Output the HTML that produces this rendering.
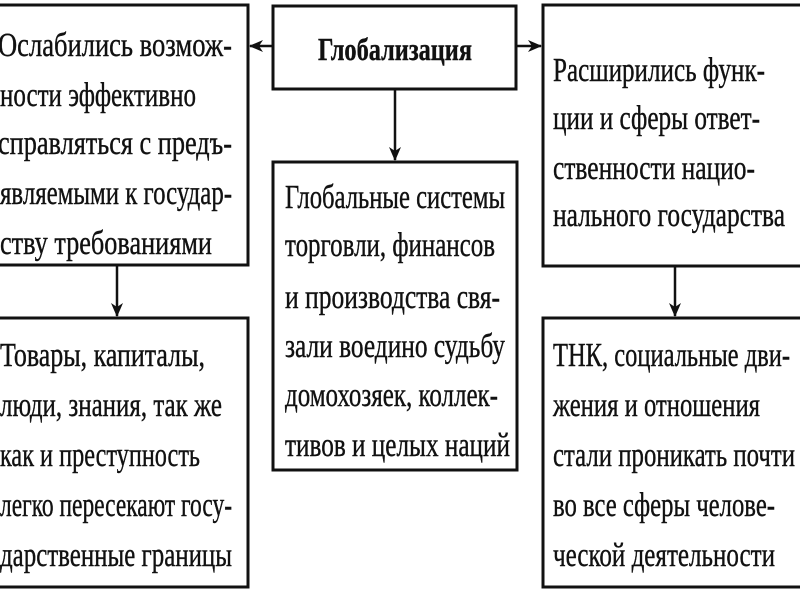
<!DOCTYPE html>
<html><head><meta charset="utf-8"><style>
html,body{margin:0;padding:0;background:#fff;width:800px;height:600px;overflow:hidden}
svg text{font-family:"Liberation Serif","DejaVu Serif",serif;font-size:34px;fill:#111;stroke:#111;stroke-width:0.4}
</style></head><body>
<svg width="800" height="600" viewBox="0 0 800 600" xmlns="http://www.w3.org/2000/svg">
<defs><marker id="a" markerWidth="14" markerHeight="12" refX="13" refY="6" orient="auto" markerUnits="userSpaceOnUse"><path d="M0,0 L14,6 L0,12 L4,6 Z" fill="#111"/></marker></defs>
<g fill="none" stroke="#111" stroke-width="3">
<rect x="-5" y="5" width="253" height="260"/>
<rect x="273" y="6" width="243" height="83"/>
<rect x="543" y="5" width="262" height="261"/>
<rect x="273" y="162" width="244" height="308"/>
<rect x="-5" y="318" width="253" height="269"/>
<rect x="543" y="318" width="262" height="269"/>
</g>
<g stroke="#111" stroke-width="2.5" marker-end="url(#a)">
<line x1="273" y1="46" x2="250" y2="46"/>
<line x1="516" y1="46" x2="541" y2="46"/>
<line x1="395" y1="89" x2="395" y2="160"/>
<line x1="117" y1="265" x2="117" y2="316"/>
<line x1="675" y1="266" x2="675" y2="316"/>
</g>
<text x="318" y="60" textLength="154" lengthAdjust="spacingAndGlyphs" font-weight="bold" style="font-size:32px">Глобализация</text>
<text x="-2" y="56" textLength="234" lengthAdjust="spacingAndGlyphs">Ослабились возмож-</text>
<text x="0" y="106" textLength="196" lengthAdjust="spacingAndGlyphs">ности эффективно</text>
<text x="-2" y="154" textLength="234" lengthAdjust="spacingAndGlyphs">справляться с предъ-</text>
<text x="0" y="204" textLength="232" lengthAdjust="spacingAndGlyphs">являемыми к государ-</text>
<text x="0" y="254" textLength="212" lengthAdjust="spacingAndGlyphs">ству требованиями</text>

<text x="553" y="81" textLength="212" lengthAdjust="spacingAndGlyphs">Расширились функ-</text>
<text x="553" y="129" textLength="207" lengthAdjust="spacingAndGlyphs">ции и сферы ответ-</text>
<text x="553" y="179" textLength="202" lengthAdjust="spacingAndGlyphs">ственности нацио-</text>
<text x="553" y="226" textLength="232" lengthAdjust="spacingAndGlyphs">нального государства</text>

<text x="285" y="208" textLength="220" lengthAdjust="spacingAndGlyphs">Глобальные системы</text>
<text x="285" y="256" textLength="210" lengthAdjust="spacingAndGlyphs">торговли, финансов</text>
<text x="285" y="308" textLength="215" lengthAdjust="spacingAndGlyphs">и производства свя-</text>
<text x="285" y="357" textLength="220" lengthAdjust="spacingAndGlyphs">зали воедино судьбу</text>
<text x="285" y="406" textLength="213" lengthAdjust="spacingAndGlyphs">домохозяек, коллек-</text>
<text x="285" y="456" textLength="225" lengthAdjust="spacingAndGlyphs">тивов и целых наций</text>

<text x="0" y="366" textLength="205" lengthAdjust="spacingAndGlyphs">Товары, капиталы,</text>
<text x="0" y="416" textLength="222" lengthAdjust="spacingAndGlyphs">люди, знания, так же</text>
<text x="0" y="466" textLength="200" lengthAdjust="spacingAndGlyphs">как и преступность</text>
<text x="0" y="516" textLength="232" lengthAdjust="spacingAndGlyphs">легко пересекают госу-</text>
<text x="0" y="566" textLength="232" lengthAdjust="spacingAndGlyphs">дарственные границы</text>

<text x="553" y="366" textLength="237" lengthAdjust="spacingAndGlyphs">ТНК, социальные дви-</text>
<text x="553" y="416" textLength="207" lengthAdjust="spacingAndGlyphs">жения и отношения</text>
<text x="553" y="466" textLength="242" lengthAdjust="spacingAndGlyphs">стали проникать почти</text>
<text x="553" y="516" textLength="222" lengthAdjust="spacingAndGlyphs">во все сферы челове-</text>
<text x="553" y="566" textLength="222" lengthAdjust="spacingAndGlyphs">ческой деятельности</text>
</svg>
</body></html>
